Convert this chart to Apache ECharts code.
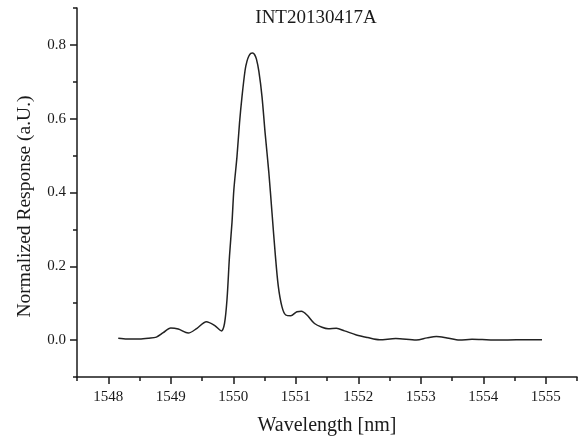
<!DOCTYPE html>
<html>
<head>
	<meta charset="UTF-8">
	<title>INT20130417A</title>
	<script src="https://cdn.jsdelivr.net/npm/echarts@6/dist/echarts.min.js"></script>
	<style>
		html, body { margin: 0; padding: 0; background: #fff; }
	</style>
</head>
<body>
<div id="container" style="width: 580px;height:441px;"></div>
<script type="text/javascript">
	// wavelength [nm] and normalized response
	var wavelength = [
		1548.16, 1548.30, 1548.50, 1548.65, 1548.77, 1548.88, 1549.00, 1549.12, 1549.28, 1549.42,
		1549.57, 1549.70, 1549.81, 1549.86, 1549.90, 1549.94, 1549.98, 1550.01, 1550.06, 1550.10,
		1550.14, 1550.19, 1550.22, 1550.25, 1550.28, 1550.31, 1550.34, 1550.37, 1550.41, 1550.46,
		1550.51, 1550.57, 1550.62, 1550.67, 1550.72, 1550.78, 1550.84, 1550.92, 1551.02, 1551.09,
		1551.18, 1551.30, 1551.42, 1551.52, 1551.65, 1551.78, 1551.97, 1552.15, 1552.34, 1552.60,
		1552.93, 1553.10, 1553.25, 1553.42, 1553.62, 1553.82, 1554.05, 1554.26, 1554.53, 1554.75,
		1554.94
	];
	var response = [
		0.005, 0.003, 0.003, 0.005, 0.008, 0.020, 0.033, 0.030, 0.019, 0.032,
		0.050, 0.040, 0.025, 0.045, 0.110, 0.228, 0.319, 0.408, 0.498, 0.588,
		0.660, 0.732, 0.756, 0.770, 0.777, 0.778, 0.774, 0.762, 0.728, 0.660,
		0.561, 0.453, 0.345, 0.237, 0.147, 0.090, 0.068, 0.066, 0.077, 0.078,
		0.068, 0.045, 0.035, 0.031, 0.032, 0.025, 0.014, 0.007, 0.001, 0.004,
		0.000, 0.006, 0.010, 0.006, 0.000, 0.002, 0.001, 0.000, 0.001, 0.001,
		0.001
	];
	var xMajorTicks = [1548, 1549, 1550, 1551, 1552, 1553, 1554, 1555];
	var xMinorTicks = [1547.5, 1548.5, 1549.5, 1550.5, 1551.5, 1552.5, 1553.5, 1554.5, 1555.5];
	var yMajorTicks = [0, 0.2, 0.4, 0.6, 0.8];
	var yMinorTicks = [-0.1, 0.1, 0.3, 0.5, 0.7, 0.9];

	var points = wavelength.map(function (w, i) { return [w, response[i]]; });

	var ink = '#1a1a1a';
	var font = '"Liberation Serif", "DejaVu Serif", serif';

	var dom = document.getElementById("container");
	var myChart = echarts.init(dom);
	var option = {
		animation: false,
		backgroundColor: '#fff',
		title: {
			text: 'INT20130417A',
			left: 311,
			top: 4,
			textAlign: 'center',
			textStyle: { fontFamily: font, fontSize: 19, fontWeight: 'normal', color: ink }
		},
		grid: { left: 77, right: 3, top: 8, bottom: 63, containLabel: false },
		xAxis: [
			{
				type: 'value', min: 1547.5, max: 1555.5, interval: 0.5,
				position: 'bottom',
				name: 'Wavelength [nm]', nameLocation: 'middle', nameGap: 39,
				nameTextStyle: { fontFamily: font, fontSize: 20, color: ink },
				axisLine: { onZero: false, lineStyle: { color: ink, width: 1.5 } },
				axisTick: { inside: false, length: 4, customValues: xMinorTicks, lineStyle: { color: ink, width: 1.5 } },
				axisLabel: { show: false },
				splitLine: { show: false }
			},
			{
				type: 'value', min: 1547.5, max: 1555.5, interval: 0.5,
				position: 'bottom',
				axisLine: { show: false, onZero: false },
				axisTick: { inside: false, length: 7, customValues: xMajorTicks, lineStyle: { color: ink, width: 1.5 } },
				axisLabel: {
					customValues: xMajorTicks, margin: 13, fontFamily: font, fontSize: 15, color: ink,
					formatter: function (v) { return String(v); }
				},
				splitLine: { show: false }
			}
		],
		yAxis: [
			{
				type: 'value', min: -0.1, max: 0.9, interval: 0.1,
				position: 'left',
				name: 'Normalized Response (a.U.)', nameLocation: 'middle', nameGap: 42,
				nameTextStyle: { fontFamily: font, fontSize: 19.5, color: ink, padding: [0, 28, 0, 0] },
				axisLine: { show: true, onZero: false, lineStyle: { color: ink, width: 1.5 } },
				axisTick: { show: true, inside: false, length: 4, customValues: yMinorTicks, lineStyle: { color: ink, width: 1.5 } },
				axisLabel: { show: false },
				splitLine: { show: false }
			},
			{
				type: 'value', min: -0.1, max: 0.9, interval: 0.1,
				position: 'left',
				axisLine: { show: false, onZero: false },
				axisTick: { show: true, inside: false, length: 7, customValues: yMajorTicks, lineStyle: { color: ink, width: 1.5 } },
				axisLabel: {
					customValues: yMajorTicks, margin: 11, fontFamily: font, fontSize: 15, color: ink,
					formatter: function (v) { return v.toFixed(1); }
				},
				splitLine: { show: false }
			}
		],
		series: [
			{
				type: 'line',
				xAxisIndex: 0,
				yAxisIndex: 0,
				data: points,
				showSymbol: false,
				smooth: 0.3,
				lineStyle: { color: '#222', width: 1.5 }
			}
		]
	};
	myChart.setOption(option);
</script>
</body>
</html>
